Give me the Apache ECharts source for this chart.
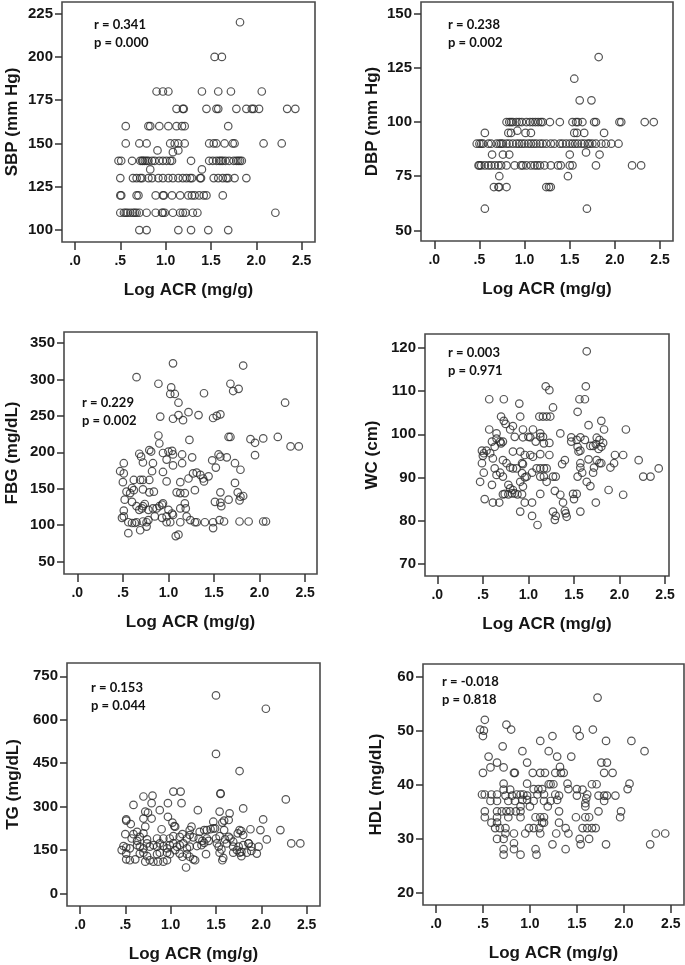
<!DOCTYPE html>
<html><head><meta charset="utf-8">
<script src="https://cdn.jsdelivr.net/npm/echarts@6.0.0/dist/echarts.min.js"></script>
<style>html,body{margin:0;padding:0;background:#fff}#c{width:685px;height:965px}</style>
</head><body><div id="c"></div>
<script>
// ---------- data ----------
const xTickValues = [0, 0.5, 1, 1.5, 2, 2.5];
const xTickLabels = ['.0', '.5', '1.0', '1.5', '2.0', '2.5'];
const xAxisTitle = 'Log ACR (mg/g)';

const yTitles = ['SBP (mm Hg)', 'DBP (mm Hg)', 'FBG (mg/dL)', 'WC (cm)', 'TG (mg/dL)', 'HDL (mg/dL)'];
const sbpTicks = [100, 125, 150, 175, 200, 225];
const dbpTicks = [50, 75, 100, 125, 150];
const fbgTicks = [50, 100, 150, 200, 250, 300, 350];
const wcTicks = [70, 80, 90, 100, 110, 120];
const tgTicks = [0, 150, 300, 450, 600, 750];
const hdlTicks = [20, 30, 40, 50, 60];

const statR = ['r = 0.341', 'r = 0.238', 'r = 0.229', 'r = 0.003', 'r = 0.153', 'r = -0.018'];
const statP = ['p = 0.000', 'p = 0.002', 'p = 0.002', 'p = 0.971', 'p = 0.044', 'p = 0.818'];

const sbpPoints = [
 [1.82,220],[1.54,200],[1.62,200],
 [0.90,180],[0.97,180],[1.03,180],[1.40,180],[1.58,180],[1.72,180],[2.06,180],
 [1.12,170],[1.19,170],[1.20,170],[1.45,170],[1.56,170],[1.58,170],[1.78,170],[1.89,170],[1.95,170],[1.97,170],[2.03,170],[2.34,170],[2.43,170],
 [0.56,160],[0.81,160],[0.83,160],[0.93,160],[1.03,160],[1.12,160],[1.18,160],[1.21,160],[1.69,160],
 [0.56,150],[0.71,150],[0.79,150],[1.05,150],[1.10,150],[1.14,150],[1.21,150],[1.48,150],[1.53,150],[1.56,150],[1.65,150],[1.74,150],[1.76,150],[2.08,150],[2.28,150],
 [0.91,146],[1.08,145],[1.14,146],
 [0.48,140],[0.51,140],[0.63,140],[0.72,140],[0.74,140],[0.75,140],[0.77,140],[0.79,140],[0.81,140],[0.85,140],[0.88,140],[0.93,140],[0.97,140],[1.01,140],[1.05,140],[1.07,140],[1.28,140],
 [1.48,140],[1.52,140],[1.56,140],[1.59,140],[1.61,140],[1.63,140],[1.66,140],[1.70,140],[1.75,140],[1.78,140],[1.80,140],[1.82,140],[1.84,140],
 [0.83,135],[1.40,135],
 [0.50,130],[0.64,130],[0.68,130],[0.72,130],[0.74,130],[0.81,130],[0.85,130],[0.92,130],[0.97,130],[1.03,130],[1.08,130],[1.14,130],[1.19,130],[1.23,130],[1.27,130],[1.29,130],[1.38,130],[1.39,130],[1.53,130],[1.58,130],[1.63,130],[1.67,130],[1.69,130],[1.76,130],[1.89,130],
 [0.50,120],[0.51,120],[0.68,120],[0.70,120],[0.89,120],[0.97,120],[0.98,120],[1.07,120],[1.16,120],[1.25,120],[1.29,120],[1.32,120],[1.37,120],[1.42,120],[1.45,120],[1.63,120],
 [0.50,110],[0.54,110],[0.56,110],[0.58,110],[0.61,110],[0.64,110],[0.66,110],[0.68,110],[0.71,110],[0.79,110],[0.89,110],[0.96,110],[0.97,110],[0.99,110],[1.08,110],[1.16,110],[1.19,110],[1.22,110],[1.30,110],[1.35,110],[2.21,110],
 [0.71,100],[0.79,100],[1.14,100],[1.28,100],[1.47,100],[1.69,100]
];

const dbpPoints = [
 [1.82,130],[1.55,120],[1.61,110],[1.74,110],
 [0.80,100],[0.83,100],[0.85,100],[0.87,100],[0.91,100],[0.94,100],[0.97,100],[1.02,100],[1.06,100],[1.09,100],[1.12,100],[1.15,100],[1.18,100],[1.20,100],[1.28,100],[1.39,100],
 [1.53,100],[1.57,100],[1.59,100],[1.64,100],[1.77,100],[1.79,100],[2.05,100],[2.07,100],[2.33,100],[2.43,100],
 [0.92,96],
 [0.56,95],[0.82,95],[0.85,95],[1.01,95],[1.07,95],[1.55,95],[1.58,95],[1.66,95],[1.88,95],
 [0.47,90],[0.50,90],[0.52,90],[0.54,90],[0.60,90],[0.63,90],[0.69,90],[0.72,90],[0.74,90],[0.76,90],[0.80,90],[0.83,90],[0.87,90],[0.91,90],[0.94,90],[0.97,90],[1.00,90],[1.04,90],[1.07,90],[1.10,90],
 [1.13,90],[1.17,90],[1.20,90],[1.24,90],[1.29,90],[1.33,90],[1.39,90],[1.42,90],[1.46,90],[1.50,90],[1.53,90],[1.56,90],[1.59,90],[1.63,90],[1.66,90],[1.70,90],[1.72,90],[1.75,90],[1.79,90],[1.85,90],[1.90,90],[1.96,90],[2.04,90],
 [1.68,86],
 [0.64,85],[0.76,85],[0.83,85],[1.50,85],[1.83,85],
 [0.49,80],[0.50,80],[0.52,80],[0.56,80],[0.60,80],[0.63,80],[0.67,80],[0.71,80],[0.74,80],[0.80,80],[0.89,80],[0.96,80],[0.98,80],[1.02,80],[1.07,80],[1.11,80],[1.14,80],[1.17,80],[1.22,80],[1.29,80],[1.37,80],[1.40,80],[1.50,80],[1.53,80],[1.79,80],[2.19,80],[2.29,80],
 [0.72,75],[1.48,75],
 [0.66,70],[0.71,70],[0.72,70],[0.80,70],[1.24,70],[1.27,70],[1.29,70],
 [0.56,60],[1.69,60]
];

const fbgPoints = [
 [1.05,322],[0.65,303],[1.82,319],[0.89,294],[1.03,289],[1.07,280],[1.02,280],[1.68,294],[1.71,284],[1.77,287],[1.39,281],[1.11,268],[2.28,268],
 [0.91,249],[1.05,246],[1.11,251],[1.16,244],[1.22,255],[1.33,251],[1.49,247],[1.53,250],[1.57,252],
 [0.89,223],[0.90,212],[1.23,217],[1.66,221],[1.68,221],[1.90,218],[1.95,213],[2.04,219],[2.20,221],[2.34,208],[2.43,208],[1.95,196],
 [0.68,198],[0.70,194],[0.79,203],[0.81,201],[0.94,199],[1.00,201],[1.04,202],[1.05,197],[1.15,197],[1.26,193],
 [0.72,186],[0.83,185],[0.82,174],[0.98,190],[1.05,182],[1.15,185],[1.48,189],[1.55,197],[1.57,194],[1.64,193],[1.73,185],[1.79,176],[1.52,179],
 [0.51,185],[0.47,174],[0.51,171],[0.50,159],[0.62,162],[0.69,162],[0.72,162],[0.79,162],[0.94,173],[0.98,160],[1.13,159],
 [1.27,171],[1.31,172],[1.35,169],[1.38,164],[1.39,160],[1.44,167],[1.22,164],
 [0.60,151],[0.54,146],[0.58,144],[0.62,148],[0.72,149],[0.79,145],[0.84,146],[1.09,145],[1.13,144],[1.18,144],[1.29,148],
 [1.57,145],[1.73,158],[1.76,145],[1.78,134],[1.82,140],[1.79,139],[1.66,135],[1.51,132],[1.58,126],[1.57,131],
 [0.52,135],[0.51,120],[0.60,132],[0.65,126],[0.68,121],[0.71,123],[0.72,126],[0.74,129],[0.78,121],[0.83,123],[0.87,123],[0.90,126],[0.93,128],[0.94,130],
 [1.00,121],[1.04,116],[1.13,123],[1.18,130],[1.19,123],[0.85,112],[0.93,110],[0.98,112],[1.05,114],[0.49,110],[0.51,112],
 [0.56,104],[0.60,103],[0.63,103],[0.65,104],[0.72,105],[0.76,104],[0.78,107],[0.98,104],[1.02,104],[1.13,104],[1.20,112],[1.24,107],[1.29,104],[1.31,104],
 [1.40,104],[1.49,104],[1.49,96],[1.56,107],[1.61,105],[1.78,105],[1.88,105],[2.04,105],[2.07,105],
 [0.56,89],[0.69,93],[0.76,98],[1.08,85],[1.11,87]
];

const wcPoints = [
 [1.64,119.2],[1.19,111.1],[1.23,110.2],[1.63,111.1],[0.57,108.1],[0.73,108.1],[1.56,108.1],[1.62,108.1],[0.90,107.1],[1.27,106.2],[1.54,105.2],
 [0.70,104.1],[0.73,103.1],[0.75,102.4],[0.80,101.1],[1.12,104.1],[1.16,104.1],[1.20,104.1],[1.24,104.1],[0.91,104.1],[1.66,102.1],[1.80,103.1],[1.83,101.1],[2.07,101.1],
 [0.57,101.1],[0.83,101.9],[0.94,101.1],[1.05,101.1],[1.13,100.2],[1.16,99.4],[1.35,100.2],
 [0.65,100.2],[0.69,98.3],[0.65,99.0],[0.70,97.9],[0.72,98.3],[0.60,98.3],[0.63,97.1],[0.85,99.4],[0.94,99.3],[1.00,99.4],[1.02,99.3],[1.08,98.3],[1.13,99.4],[1.17,97.9],[1.23,98.0],
 [1.47,98.3],[1.47,99.3],[1.53,98.7],[1.57,99.3],[1.62,98.7],[1.75,99.2],[1.78,98.7],[1.82,98.0],[1.80,97.1],[1.68,97.3],[1.71,97.3],[1.74,97.7],[1.77,96.6],[1.54,97.1],[1.55,96.0],[1.57,96.2],
 [0.49,96.2],[0.51,95.6],[0.50,95.0],[0.54,96.2],[0.58,95.6],[0.61,94.4],[0.83,96.0],[0.91,96.0],[0.96,95.2],[1.02,95.2],[1.05,94.8],[1.13,95.4],[1.23,95.2],
 [0.72,94.0],[0.76,93.3],[0.93,93.3],[0.94,93.1],[1.37,93.1],[1.40,94.0],[1.57,93.3],[1.66,94.2],[1.78,93.3],[1.80,93.3],[1.75,94.0],[1.95,95.2],[2.04,95.2],[2.21,94.0],
 [0.49,93.3],[0.51,91.1],[0.63,92.1],[0.65,90.6],[0.69,91.1],[0.72,90.2],[0.80,92.3],[0.83,92.1],[0.87,92.1],[0.93,91.0],[0.96,90.0],[0.98,90.2],
 [1.04,91.1],[1.09,92.1],[1.13,92.1],[1.17,92.1],[1.20,92.1],[1.17,90.2],[1.13,90.2],[1.27,90.2],[1.30,90.2],[1.54,90.2],[1.57,92.3],[1.59,91.1],[1.71,91.1],[1.72,92.3],[1.90,92.3],[1.94,93.3],
 [2.26,90.2],[2.34,90.2],[2.43,92.1],
 [0.47,89.0],[0.60,88.3],[0.78,88.3],[0.80,87.5],[0.83,87.1],[0.85,86.3],[0.82,86.3],[0.91,89.0],[0.94,87.9],[1.20,89.0],[1.64,89.0],[1.68,88.0],[1.29,86.9],[1.35,86.0],
 [0.72,86.1],[0.74,86.2],[0.78,86.1],[0.88,86.1],[0.93,86.1],[1.13,86.2],[1.49,86.2],[1.53,86.2],[1.50,85.0],[1.88,87.1],[2.04,86.0],
 [0.52,85.0],[0.61,84.2],[0.68,84.2],[0.96,84.2],[1.04,84.2],[1.38,84.2],[1.40,82.3],[1.74,84.2],[0.91,82.1],[1.27,82.1],[1.30,81.1],[1.29,80.2],[1.41,81.7],[1.42,80.9],[1.57,82.1],[1.04,81.1],[1.10,79.0]
];

const tgPoints = [
 [1.50,684],[2.05,638],[1.50,482],[1.76,423],[1.03,352],[1.11,352],[1.55,346],[1.55,344],[2.27,325],
 [0.70,335],[0.80,338],[0.59,306],[0.79,312],[1.12,312],[0.97,312],[0.88,288],[1.30,288],[0.72,283],[0.75,279],[1.54,283],[1.65,277],[1.80,294],
 [0.51,256],[0.51,252],[0.56,240],[0.70,259],[0.79,259],[0.72,231],[0.90,222],[0.97,265],[1.02,245],[1.04,233],[1.05,231],
 [1.47,248],[1.57,245],[1.59,252],[1.64,254],[1.47,225],[1.59,219],[2.02,256],[2.21,219],[2.06,187],
 [1.23,231],[1.21,219],[1.32,213],[1.37,219],[1.40,219],[1.44,222],[1.49,225],[1.76,219],[1.78,216],[1.88,222],[1.99,219],
 [0.50,205],[0.59,205],[0.63,213],[0.66,196],[0.70,208],[0.57,190],[0.63,182],[0.74,187],
 [0.85,190],[0.92,190],[0.99,190],[1.03,198],[1.10,196],[1.13,205],[1.18,190],[1.21,202],[1.25,194],[1.31,190],[1.35,182],[1.40,190],
 [1.50,190],[1.54,198],[1.60,187],[1.64,196],[1.66,190],[1.74,208],[1.80,202],[1.86,173],[1.69,179],
 [0.48,164],[0.51,159],[0.46,150],[0.55,156],[0.63,167],[0.66,162],[0.70,156],[0.74,173],[0.77,162],
 [0.81,167],[0.85,162],[0.88,173],[0.92,164],[0.96,156],[0.99,167],[1.03,173],[1.07,162],[1.10,167],[1.14,173],[1.18,156],[1.21,162],[1.29,164],
 [1.34,167],[1.37,175],[1.42,182],[1.51,173],[1.53,162],[1.56,152],[1.62,173],[1.69,162],[1.75,162],[1.80,167],[1.86,173],[1.89,162],[1.97,162],[2.33,173],[2.43,173],
 [0.51,138],[0.51,118],[0.55,115],[0.61,118],[0.66,138],[0.70,141],[0.74,129],[0.72,110],[0.77,115],[0.81,110],[0.86,110],[0.92,110],[0.96,115],
 [0.85,136],[0.88,141],[0.96,141],[0.99,136],[1.05,150],[1.10,138],[1.13,127],[1.18,136],[1.21,127],[1.25,118],[1.17,90],[1.27,115],[1.39,136],
 [1.54,141],[1.57,115],[1.58,123],[1.69,141],[1.73,150],[1.76,141],[1.78,129],[1.84,141],[1.89,147],[1.95,138],[1.78,144]
];

const hdlPoints = [
 [1.72,56.1],[0.52,52.0],[0.47,50.2],[0.51,50.0],[0.50,49.0],[0.75,51.1],[0.80,50.2],[1.50,50.2],[1.53,49.0],[1.67,50.2],[1.11,48.1],[1.24,49.0],[1.81,48.1],[2.08,48.1],[2.22,46.2],
 [0.92,46.2],[1.20,46.2],[1.29,45.2],[1.44,45.2],[0.56,45.2],[0.71,47.1],[0.65,44.1],[0.58,43.2],[0.50,42.2],[0.72,43.2],[0.97,44.1],[0.83,42.2],[0.84,42.2],
 [1.03,42.2],[1.11,42.2],[1.16,42.2],[1.20,40.1],[1.22,40.1],[1.25,40.1],[1.32,43.3],[1.33,42.2],[1.36,42.2],[1.76,44.1],[1.82,44.1],[1.79,42.2],[1.88,42.2],[0.97,40.2],[0.72,40.2],[1.27,42.2],
 [1.40,40.2],[1.41,39.2],[1.50,39.2],[1.56,39.1],[1.66,40.1],[1.71,40.1],[2.06,40.2],[2.04,39.2],
 [0.49,38.2],[0.52,38.2],[0.59,38.2],[0.65,38.2],[0.72,39.1],[0.74,38.0],[0.79,39.1],[0.81,38.0],[0.86,38.2],[0.90,38.2],[0.93,38.2],[0.97,38.0],
 [1.04,39.2],[1.09,39.2],[1.13,39.2],[1.08,38.2],[1.15,38.2],[1.27,38.2],[1.29,37.2],[1.31,38.0],[1.50,38.0],[1.61,38.2],[1.60,37.5],[1.73,38.0],[1.79,38.0],[1.82,38.0],[1.91,38.0],
 [0.58,37.0],[0.65,37.0],[0.77,37.0],[0.84,37.0],[0.92,37.2],[0.97,37.2],[1.04,37.0],[1.15,37.0],[1.22,37.0],[1.59,36.6],[1.79,37.0],[0.90,36.0],[1.00,36.0],[1.19,36.0],[1.59,36.0],
 [0.52,35.1],[0.65,35.1],[0.70,35.1],[0.75,35.1],[0.79,35.1],[0.85,35.1],[0.90,35.1],[1.31,35.1],[1.73,35.1],[1.97,35.1],
 [0.52,34.0],[0.65,34.0],[0.77,34.0],[0.90,34.0],[1.06,34.0],[1.11,34.0],[1.15,34.0],[1.49,34.0],[1.59,34.0],[1.63,34.0],[1.96,34.0],
 [0.59,33.0],[0.65,33.0],[1.13,33.0],[1.15,33.0],[1.31,33.0],
 [0.63,32.0],[0.68,32.0],[0.74,32.0],[0.99,32.0],[1.04,32.0],[1.10,32.0],[1.38,32.0],[1.56,32.0],[1.61,32.0],[1.66,32.0],[1.70,32.0],
 [0.74,31.0],[0.83,31.0],[0.95,31.0],[1.11,31.0],[1.28,31.0],[1.41,31.0],[2.34,31.0],[2.44,31.0],
 [0.65,30.0],[0.72,30.0],[1.53,30.0],[1.63,30.0],[0.83,29.2],[1.24,29.0],[1.54,29.0],[1.81,29.0],[2.28,29.0],
 [0.72,28.1],[0.83,28.1],[1.06,28.1],[1.38,28.1],[0.72,27.1],[0.90,27.1],[1.07,27.1]
];

const panelData = [sbpPoints, dbpPoints, fbgPoints, wcPoints, tgPoints, hdlPoints];
const panelTicks = [sbpTicks, dbpTicks, fbgTicks, wcTicks, tgTicks, hdlTicks];

// ---------- layout (pixels / axis extents) ----------
const layout = [
 {left:62,  top:2,   width:253, height:240, xMin:-0.143, xMax:2.647, yMin:93.1,  yMax:231.7, yGap:41, sx:94,  sy:25},
 {left:421, top:2,   width:252, height:239, xMin:-0.147, xMax:2.643, yMin:45.1,  yMax:155.4, yGap:40, sx:448, sy:25},
 {left:64,  top:332, width:253, height:242, xMin:-0.146, xMax:2.630, yMin:33,    yMax:365,   yGap:43, sx:82,  sy:403},
 {left:425, top:334, width:244, height:242, xMin:-0.135, xMax:2.543, yMin:67.2,  yMax:123.2, yGap:44, sx:448, sy:353},
 {left:67,  top:663, width:253, height:243, xMin:-0.143, xMax:2.647, yMin:-43,   yMax:796,   yGap:45, sx:91,  sy:688},
 {left:423, top:664, width:261, height:241, xMin:-0.138, xMax:2.640, yMin:17.8,  yMax:62.3,  yGap:38, sx:442, sy:682}
];

const FONT = "'Liberation Sans', Arial, sans-serif";
const grids = [], xAxes = [], yAxes = [], series = [], graphics = [];

layout.forEach((L, i) => {
  grids.push({left:L.left, top:L.top, width:L.width, height:L.height, show:true,
    borderColor:'#4a4a4a', borderWidth:1.6, backgroundColor:'rgba(0,0,0,0)', containLabel:false, outerBoundsMode:'none'});
  xAxes.push({gridIndex:i, type:'value', min:L.xMin, max:L.xMax,
    name:xAxisTitle, nameLocation:'middle', nameGap:40,
    nameTextStyle:{fontFamily:FONT, fontWeight:'bold', fontSize:17, color:'#151515'},
    axisLine:{show:false, onZero:false},
    axisTick:{show:true, customValues:xTickValues, length:8, inside:false, lineStyle:{color:'#333', width:1.5}},
    axisLabel:{show:true, customValues:xTickValues, margin:12, fontFamily:FONT, fontWeight:'bold', fontSize:14, color:'#151515',
      formatter:(v)=>{ const k = xTickValues.findIndex(t=>Math.abs(t-v)<1e-6); return k>=0 ? xTickLabels[k] : ''; }},
    splitLine:{show:false}});
  yAxes.push({gridIndex:i, type:'value', min:L.yMin, max:L.yMax,
    name:yTitles[i], nameLocation:'middle', nameGap:L.yGap,
    nameTextStyle:{fontFamily:FONT, fontWeight:'bold', fontSize:17, color:'#151515'},
    axisLine:{show:false, onZero:false},
    axisTick:{show:true, customValues:panelTicks[i], length:7, lineStyle:{color:'#333', width:1.5}},
    axisLabel:{show:true, customValues:panelTicks[i], margin:9, fontFamily:FONT, fontWeight:'bold', fontSize:15, color:'#151515'},
    splitLine:{show:false}});
  series.push({type:'scatter', xAxisIndex:i, yAxisIndex:i, data:panelData[i], symbol:'circle', symbolSize:7.5,
    itemStyle:{color:'rgba(255,255,255,0)', borderColor:'#2b2b2b', borderWidth:1.2}, silent:true, emphasis:{disabled:true}});
  graphics.push({type:'text', x:L.sx, y:L.sy, style:{text:statR[i], font:"bold 13px Lato, 'Open Sans', sans-serif", fill:'#111', verticalAlign:'middle', align:'left'}});
  graphics.push({type:'text', x:L.sx, y:L.sy+17.7, style:{text:statP[i], font:"bold 13px Lato, 'Open Sans', sans-serif", fill:'#111', verticalAlign:'middle', align:'left'}});
});

const chart = echarts.init(document.getElementById('c'), null, {renderer:'canvas'});
chart.setOption({animation:false, backgroundColor:'#fff', grid:grids, xAxis:xAxes, yAxis:yAxes, series:series, graphic:graphics});
</script>
</body></html>
